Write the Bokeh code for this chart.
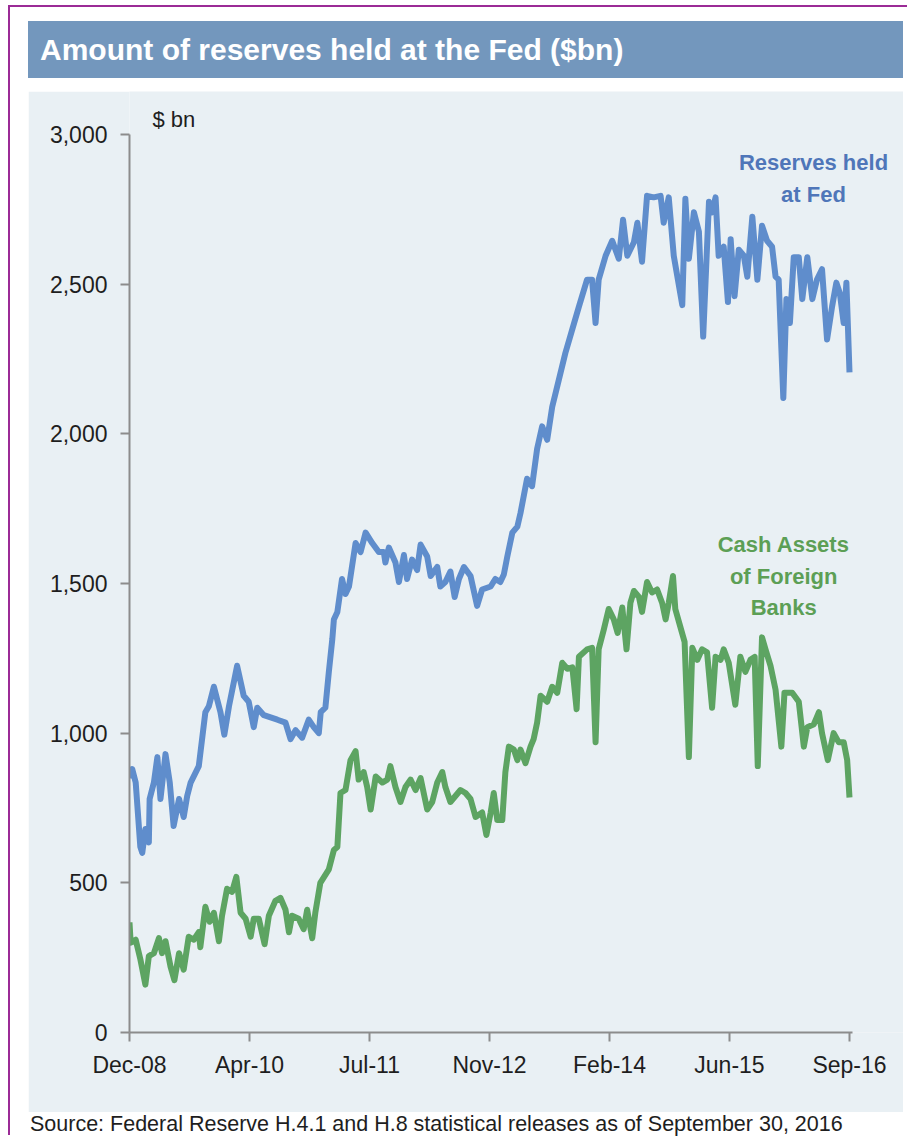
from bokeh.plotting import figure
from bokeh.models import Div, Label, FixedTicker, NumeralTickFormatter, Range1d, Spacer
from bokeh.layouts import column, row
from bokeh.embed import file_html
from bokeh.resources import INLINE

# x values are months since December 2008; y values in $bn
reserves_month = [
    0.0, 0.35, 0.8, 1.4, 1.65, 2.05, 2.5, 2.6, 3.15, 3.6,
    4.0, 4.65, 5.2, 5.7, 6.4, 7.0, 7.45, 7.9, 8.95, 9.8,
    10.25, 10.9, 11.75, 12.25, 12.85, 13.9, 14.75, 15.4, 16.05, 16.5,
    17.35, 19.1, 20.15, 20.8, 21.45, 22.3, 23.15, 23.8, 24.45, 24.7,
    25.3, 25.75, 26.2, 26.4, 26.85, 27.45, 27.9, 28.35, 29.2, 29.85,
    30.5, 31.35, 32.2, 32.85, 33.05, 33.5, 34.35, 34.8, 35.45, 35.85,
    36.5, 37.15, 37.6, 38.45, 38.9, 39.75, 40.15, 40.8, 41.45, 42.0,
    42.55, 43.2, 44.05, 44.9, 45.55, 46.65, 47.25, 47.9, 48.35, 48.8,
    49.45, 50.1, 50.5, 51.35, 52.0, 52.65, 53.3, 53.95, 54.6, 55.45,
    56.3, 57.2, 58.05, 59.1, 59.75, 60.2, 60.6, 61.5, 62.35, 63.2,
    63.75, 64.3, 65.15, 65.6, 66.2, 66.85, 67.7, 68.6, 69.0, 69.65,
    70.3, 71.4, 71.8, 72.25, 72.9, 73.55, 74.1, 74.85, 75.25, 75.7,
    76.1, 76.75, 77.3, 77.65, 78.15, 78.7, 79.35, 79.8, 80.45, 81.1,
    81.7, 82.35, 83.0, 83.45, 83.85, 84.45, 84.85, 85.3, 85.8, 86.45,
    86.9, 87.55, 88.2, 88.8, 89.45, 90.1, 90.75, 91.3, 91.75, 92.25,
    92.6, 93.0,
]
reserves_bn = [
    850, 880, 835, 620, 600, 680, 635, 780, 835, 920,
    780, 930, 835, 690, 780, 720, 790, 835, 890, 1070,
    1090, 1155, 1070, 995, 1090, 1225, 1125, 1105, 1020, 1085,
    1060, 1045, 1035, 980, 1010, 985, 1045, 1020, 1000, 1070,
    1085, 1205, 1315, 1380, 1405, 1515, 1465, 1490, 1635, 1605,
    1670, 1635, 1605, 1605, 1570, 1620, 1570, 1505, 1595, 1515,
    1580, 1545, 1630, 1590, 1525, 1555, 1490, 1505, 1540, 1455,
    1515, 1555, 1525, 1425, 1480, 1490, 1515, 1505, 1530, 1590,
    1670, 1690, 1735, 1850, 1825, 1950, 2025, 1980, 2090, 2180,
    2270, 2350, 2425, 2515, 2515, 2370, 2515, 2595, 2645, 2585,
    2715, 2595, 2640, 2705, 2575, 2795, 2790, 2795, 2705, 2790,
    2595, 2430, 2785, 2585, 2740, 2675, 2325, 2775, 2740, 2790,
    2595, 2625, 2440, 2650, 2460, 2615, 2595, 2525, 2725, 2515,
    2695, 2645, 2625, 2525, 2515, 2120, 2450, 2370, 2590, 2590,
    2450, 2590, 2450, 2515, 2550, 2315, 2425, 2505, 2470, 2370,
    2505, 2205,
]

foreign_month = [
    0.0, 0.15, 0.8, 1.4, 2.05, 2.5, 3.15, 3.8, 4.2, 4.65,
    5.3, 5.8, 6.4, 7.0, 7.65, 8.3, 8.95, 9.15, 9.8, 10.35,
    10.9, 11.55, 11.95, 12.6, 13.25, 13.8, 14.35, 15.0, 15.65, 16.05,
    16.7, 17.45, 18.0, 18.85, 19.5, 20.15, 20.6, 21.0, 21.85, 22.5,
    22.95, 23.6, 24.0, 24.65, 25.75, 26.4, 26.85, 27.25, 27.9, 28.55,
    29.2, 29.6, 30.25, 30.7, 31.15, 31.8, 32.65, 33.3, 33.7, 34.35,
    35.0, 35.65, 36.3, 36.95, 37.6, 38.45, 39.1, 39.75, 40.4, 40.8,
    41.45, 42.1, 42.75, 43.4, 44.05, 44.7, 45.55, 46.1, 46.65, 47.05,
    47.5, 48.15, 48.55, 49.0, 49.65, 50.1, 50.5, 51.15, 51.8, 52.2,
    52.65, 53.1, 53.95, 54.6, 55.25, 55.9, 56.55, 57.2, 57.75, 58.05,
    59.1, 59.75, 60.2, 60.6, 61.25, 61.9, 62.55, 63.05, 63.65, 64.2,
    64.7, 65.15, 65.8, 66.2, 66.85, 67.5, 68.15, 68.8, 69.25, 69.65,
    70.2, 70.5, 71.15, 71.7, 72.25, 72.7, 73.35, 73.95, 74.6, 75.25,
    75.7, 76.35, 76.75, 77.4, 78.25, 78.9, 79.55, 80.2, 80.75, 81.15,
    81.7, 82.15, 82.8, 83.45, 84.2, 84.6, 85.6, 86.45, 87.1, 87.55,
    88.4, 89.05, 89.45, 90.2, 90.95, 91.6, 92.25, 92.7, 93.0,
]
foreign_bn = [
    368, 300, 310, 245, 160, 255, 265, 315, 265, 305,
    220, 175, 265, 210, 320, 310, 335, 285, 420, 370,
    400, 305, 390, 480, 470, 520, 400, 380, 320, 380,
    380, 295, 390, 440, 450, 410, 335, 390, 380, 345,
    410, 315, 400, 500, 545, 610, 620, 800, 810, 910,
    940, 845, 870, 820, 745, 855, 835, 845, 890, 820,
    770, 820, 845, 810, 850, 745, 770, 835, 870, 820,
    770, 790, 810, 800, 780, 720, 735, 660, 735, 800,
    710, 710, 870, 955, 945, 910, 945, 900, 955, 980,
    1035, 1125, 1105, 1155, 1135, 1235, 1215, 1220, 1080, 1255,
    1280, 1285, 970, 1280, 1345, 1415, 1380, 1335, 1420, 1280,
    1435, 1475, 1455, 1405, 1505, 1470, 1480, 1435, 1380, 1435,
    1525, 1415, 1355, 1305, 920, 1285, 1245, 1280, 1270, 1085,
    1255, 1245, 1280, 1235, 1095, 1255, 1205, 1245, 1255, 890,
    1320, 1280, 1225, 1145, 955, 1135, 1135, 1105, 955, 1020,
    1030, 1070, 1000, 910, 1000, 970, 970, 910, 785,
]

tick_months = [0, 15.5, 31, 46.5, 62, 77.5, 93]
tick_labels = ["Dec-08", "Apr-10", "Jul-11", "Nov-12", "Feb-14", "Jun-15", "Sep-16"]
y_ticks = [0, 500, 1000, 1500, 2000, 2500, 3000]

FONT = "Liberation Sans"
PANEL = "#e9f0f4"
BLUE = "#5f8dcc"
GREEN = "#5da462"
AXIS = "#8c8c8c"

# The frame runs to the panel's top and right edges so the series labels
# and the unit label have room; the axes themselves stop at the data bounds.
p = figure(
    width=875, height=1021,
    x_range=Range1d(0, 99.975), y_range=Range1d(0, 3143.6),
    output_backend="svg", toolbar_location=None,
    min_border_left=101, min_border_right=0,
    min_border_top=0, min_border_bottom=80,
    background_fill_color=PANEL, border_fill_color=PANEL,
    outline_line_color=None,
)
p.grid.visible = False

p.line(reserves_month, reserves_bn, line_color=BLUE, line_width=6, line_join="round")
p.line(foreign_month, foreign_bn, line_color=GREEN, line_width=6, line_join="round")

p.xaxis.ticker = FixedTicker(ticks=tick_months)
p.xaxis.major_label_overrides = {t: lab for t, lab in zip(tick_months, tick_labels)}
p.xaxis.bounds = (0, 93.4)
p.yaxis.ticker = FixedTicker(ticks=y_ticks)
p.yaxis.formatter = NumeralTickFormatter(format="0,0")
p.yaxis.bounds = (0, 3000)

for ax in (p.xaxis[0], p.yaxis[0]):
    ax.axis_line_color = AXIS
    ax.axis_line_width = 2
    ax.major_tick_line_color = AXIS
    ax.major_tick_line_width = 2
    ax.major_tick_in = 0
    ax.major_tick_out = 9
    ax.minor_tick_line_color = None
    ax.major_label_text_font = FONT
    ax.major_label_text_font_size = "23px"
    ax.major_label_text_color = "#1e1e1e"
p.xaxis.major_label_standoff = 10
p.yaxis.major_label_standoff = 13

p.add_layout(Label(x=2.97, y=3050, text="$ bn", text_font=FONT, text_font_size="22px",
                   text_color="#1e1e1e", text_baseline="middle", text_align="left"))

for txt, yv in (("Reserves held", 2907), ("at Fed", 2800)):
    p.add_layout(Label(x=88.35, y=yv, text=txt, text_font=FONT, text_font_size="22px",
                       text_font_style="bold", text_color="#4f76b9",
                       text_align="center", text_baseline="middle"))

for txt, yv in (("Cash Assets", 1630), ("of Foreign", 1524), ("Banks", 1420)):
    p.add_layout(Label(x=84.5, y=yv, text=txt, text_font=FONT, text_font_size="22px",
                       text_font_style="bold", text_color="#5c9f55",
                       text_align="center", text_baseline="middle"))

title_div = Div(
    text="Amount of reserves held at the Fed ($bn)",
    width=875, height=57, margin=(14, 0, 0, 18),
    styles={
        "background-color": "#7397bd", "color": "white",
        "font-family": FONT, "font-weight": "bold", "font-size": "30px",
        "line-height": "57px", "padding-left": "12px", "white-space": "nowrap",
        "box-sizing": "border-box",
    },
)

source_div = Div(
    text="Source: Federal Reserve H.4.1 and H.8 statistical releases as of September 30, 2016",
    width=880, height=22, margin=(1, 0, 0, 20),
    styles={"font-family": FONT, "font-size": "21.5px", "color": "#1e1e1e",
            "white-space": "nowrap", "line-height": "22px"},
)

page = column(
    title_div,
    Spacer(height=13),
    row(Spacer(width=18), p),
    source_div,
    margin=(5, 0, 0, 8),
    styles={"border-top": "2px solid #9b2b96", "border-left": "2px solid #9b2b96"},
)

open("out.html", "w").write(file_html(page, INLINE))
